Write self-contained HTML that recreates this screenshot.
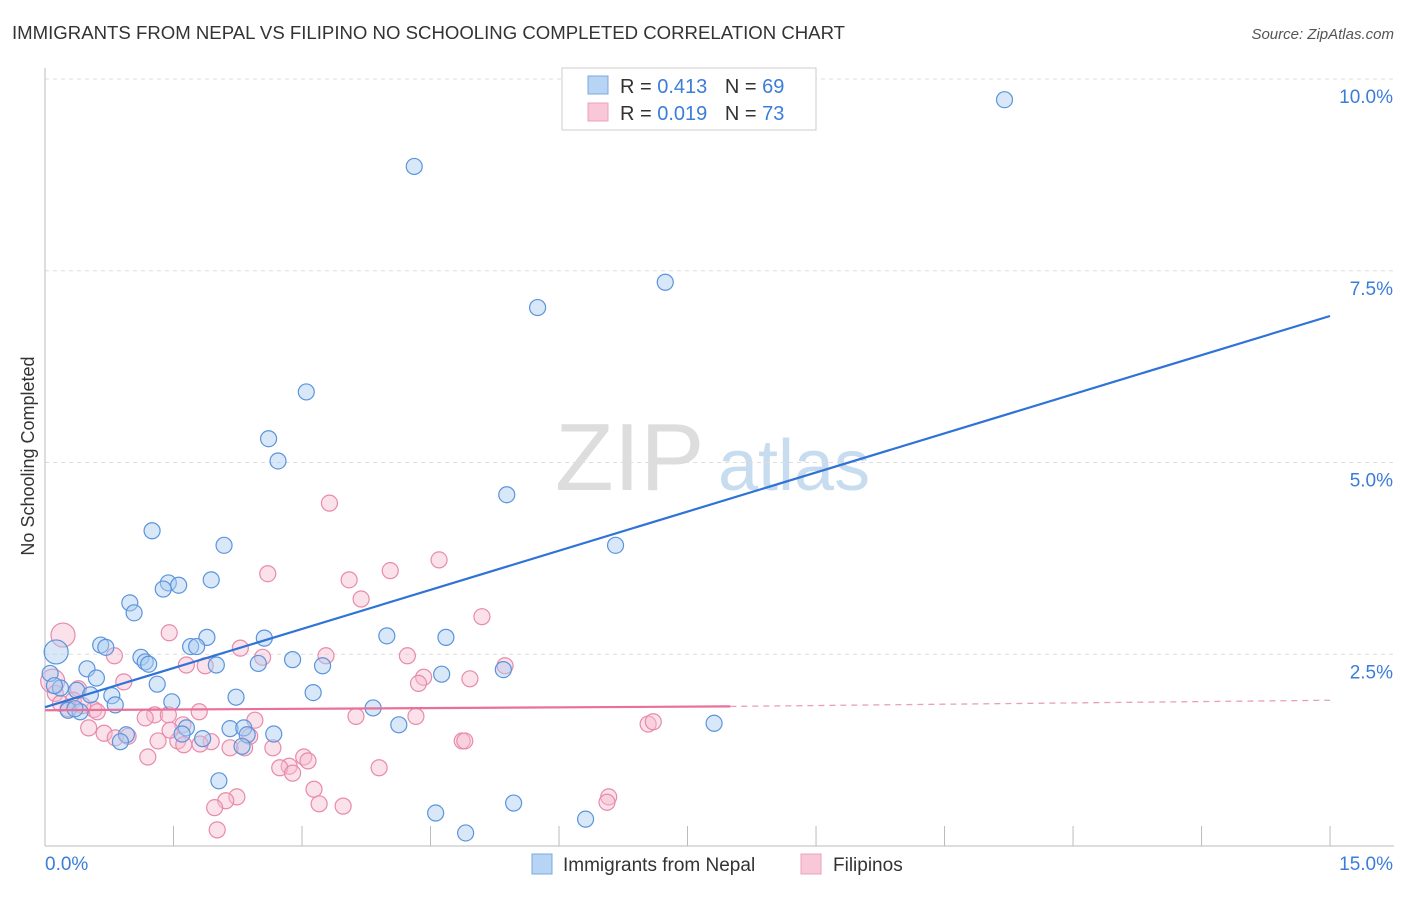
<!DOCTYPE html>
<html><head><meta charset="utf-8"><style>
body{margin:0;background:#fff;font-family:"Liberation Sans",sans-serif;}
svg text{font-family:"Liberation Sans",sans-serif;}
</style></head><body>
<svg id="c" width="1406" height="892">
<text x="12" y="39" font-size="18.6" fill="#333">IMMIGRANTS FROM NEPAL VS FILIPINO NO SCHOOLING COMPLETED CORRELATION CHART</text>
<text x="1394" y="39" font-size="15" fill="#555" text-anchor="end" font-style="italic">Source: ZipAtlas.com</text>
<text x="555" y="490" font-size="96" fill="#ddd" font-family="Liberation Serif">ZIP</text>
<text x="718" y="490" font-size="72" fill="#c8dcf0">atlas</text>
<text x="34" y="456" font-size="18" fill="#333" text-anchor="middle" transform="rotate(-90 34 456)">No Schooling Completed</text>
<g id="grid"></g><g id="pts"></g><g id="lines"></g>
<g>
<rect x="562" y="68" width="254" height="62" fill="#fff" stroke="#ccc"/>
<rect x="588" y="76" width="20" height="18" fill="#b8d4f4" stroke="#7aa8e0"/>
<rect x="588" y="103" width="20" height="18" fill="#f9c8d8" stroke="#eda0bb"/>
<text x="620" y="93" font-size="20" fill="#333">R = <tspan fill="#3b7dd8">0.413</tspan>  <tspan dx="12">N = </tspan><tspan fill="#3b7dd8">69</tspan></text>
<text x="620" y="120" font-size="20" fill="#333">R = <tspan fill="#3b7dd8">0.019</tspan>  <tspan dx="12">N = </tspan><tspan fill="#3b7dd8">73</tspan></text>
</g>
<g>
<rect x="532" y="854" width="20" height="20" fill="#b8d4f4" stroke="#7aa8e0"/>
<text x="563" y="871" font-size="19" fill="#333">Immigrants from Nepal</text>
<rect x="801" y="854" width="20" height="20" fill="#f9c8d8" stroke="#eda0bb"/>
<text x="833" y="871" font-size="19" fill="#333">Filipinos</text>
</g>
</svg>
<script>
const NS="http://www.w3.org/2000/svg";
const yTicks=[2.5,5.0,7.5,10.0];
const xTickLabels=["0.0%","15.0%"];
const blueX=[11.2,4.31,7.24,5.75,3.05,2.61,2.72,5.39,1.25,6.66,2.09,1.94,1.44,1.56,1.38,0.99,1.04,1.89,2.56,3.99,4.68,0.65,0.71,1.7,1.77,1.12,1.17,1.21,2.0,2.49,2.89,3.24,5.35,4.63,0.49,0.6,1.31,3.13,2.23,0.13,0.06,0.18,0.37,0.53,0.78,1.48,3.83,0.82,0.27,0.41,0.35,4.13,7.81,2.16,2.32,1.65,1.6,1.84,2.67,2.36,0.95,0.88,2.3,2.03,4.56,5.47,6.31,4.91,0.11];
const blueY=[9.73,8.86,7.35,7.02,5.92,5.31,5.02,4.58,4.11,3.92,3.92,3.47,3.43,3.40,3.35,3.17,3.04,2.72,2.71,2.74,2.72,2.62,2.59,2.6,2.6,2.46,2.4,2.37,2.36,2.38,2.43,2.35,2.3,2.24,2.31,2.19,2.11,2.0,1.94,2.53,2.25,2.06,2.03,1.97,1.96,1.88,1.8,1.84,1.77,1.75,1.79,1.58,1.6,1.53,1.54,1.54,1.46,1.4,1.46,1.45,1.45,1.36,1.3,0.85,0.43,0.56,0.35,0.17,2.09];
const pinkX=[3.32,4.6,2.6,4.03,3.55,3.69,5.1,1.45,0.21,2.28,0.81,3.28,4.23,1.65,1.87,2.54,4.42,5.37,4.96,4.36,0.92,0.39,0.09,0.33,0.57,0.61,1.8,1.28,1.44,1.17,1.61,0.51,0.69,0.97,2.45,4.33,3.63,1.55,1.32,1.94,1.62,1.2,2.16,2.39,2.33,2.66,3.02,3.07,2.85,2.74,2.89,3.9,4.87,7.04,7.1,3.14,2.24,2.11,3.2,3.48,1.98,6.58,6.56,2.01,0.12,0.18,0.27,0.44,0.82,1.46,1.81,4.9];
const pinkY=[4.47,3.73,3.55,3.59,3.47,3.22,2.99,2.78,2.75,2.58,2.48,2.48,2.48,2.36,2.35,2.46,2.2,2.35,2.18,2.12,2.14,2.05,2.15,1.9,1.78,1.75,1.75,1.71,1.71,1.67,1.58,1.54,1.47,1.43,1.64,1.69,1.69,1.37,1.37,1.36,1.32,1.16,1.28,1.43,1.28,1.28,1.16,1.11,1.04,1.02,0.95,1.02,1.37,1.59,1.62,0.74,0.64,0.59,0.55,0.52,0.5,0.64,0.57,0.21,1.99,1.86,1.79,1.83,1.41,1.51,1.33,1.37];
const bigBlue=[39],bigPink=[8,22];
const X=v=>45+v*85.67, Y=v=>846-v*76.7;
const svg=document.getElementById('c'),grid=document.getElementById('grid'),pts=document.getElementById('pts'),lines=document.getElementById('lines');
function mk(tag,a,p){const e=document.createElementNS(NS,tag);for(const k in a)e.setAttribute(k,a[k]);p.appendChild(e);return e;}
for(const t of yTicks){
 const g=mk('line',{x1:45,x2:1394,y1:Y(t),y2:Y(t),stroke:'#ddd','stroke-dasharray':'4,4'},grid);
 
 
 const l=mk('text',{x:1393,y:Y(t)+24,'font-size':19,fill:'#3b7dd8','text-anchor':'end'},grid);l.textContent=t.toFixed(1)+'%';
 
 
}
const ax=mk('line',{x1:45,x2:1394,y1:846,y2:846,stroke:'#bbb'},grid);


const ay=mk('line',{x1:45,x2:45,y1:68,y2:846,stroke:'#bbb'},grid);


for(let i=0;i<=10;i++){const t=mk('line',{x1:X(i*1.5),x2:X(i*1.5),y1:826,y2:846,stroke:'#bbb'},grid);
 
 }
const xl0=mk('text',{x:45,y:870,'font-size':19,fill:'#3b7dd8'},grid);xl0.textContent=xTickLabels[0];


const xl1=mk('text',{x:1393,y:870,'font-size':19,fill:'#3b7dd8','text-anchor':'end'},grid);xl1.textContent=xTickLabels[1];


function draw(xs,ys,big,fill,stroke,name){xs.forEach((x,i)=>{const c=mk('circle',{cx:X(x),cy:Y(ys[i]),r:big.includes(i)?12:8,fill:fill,'fill-opacity':0.45,stroke:stroke,'stroke-width':1.2},pts);
 
 });}
draw(pinkX,pinkY,bigPink,'#f7bcd0','#e88aab','point-filipinos');
draw(blueX,blueY,bigBlue,'#aaccf2','#5a94dc','point-nepal');
const bl=mk('line',{x1:X(0),y1:Y(1.81),x2:X(15),y2:Y(6.91),stroke:'#2f73d6','stroke-width':2.2},lines);


const pl=mk('line',{x1:X(0),y1:Y(1.77),x2:X(8.0),y2:Y(1.82),stroke:'#e8709a','stroke-width':2.2},lines);


const pd=mk('line',{x1:X(8.0),y1:Y(1.82),x2:X(15),y2:Y(1.90),stroke:'#e8a0ba','stroke-width':1.3,'stroke-dasharray':'6,5'},lines);


</script>
</body></html>
